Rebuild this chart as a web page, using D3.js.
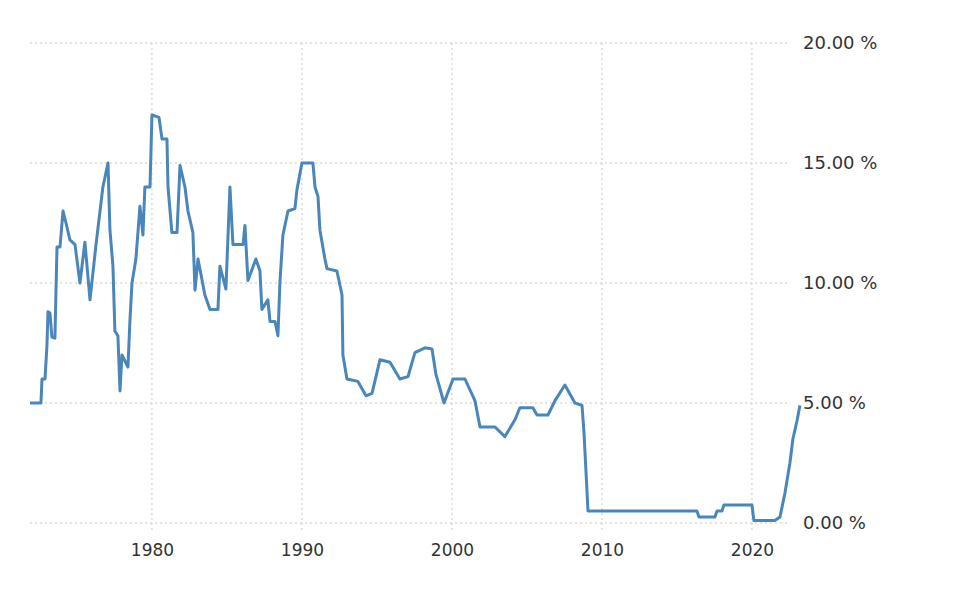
<!DOCTYPE html>
<html lang="en">
<head>
<meta charset="UTF-8">
<title>Interest rate</title>
<script src="https://cdn.jsdelivr.net/npm/d3@7"></script>
<style>
  body { margin: 0; background: #fff; }
  text { font-family: "DejaVu Sans", sans-serif; fill: #333; }
</style>
</head>
<body>
<svg width="960" height="600"></svg>
<script>
// values (decimal year, percent)
const years = [1971.87, 1972.6, 1972.67, 1972.87, 1973.0, 1973.07, 1973.2, 1973.33, 1973.53, 1973.67,
  1973.87, 1974.07, 1974.27, 1974.53, 1974.87, 1975.2, 1975.53, 1975.87, 1976.27, 1976.73,
  1977.07, 1977.2, 1977.4, 1977.53, 1977.73, 1977.87, 1978.0, 1978.4, 1978.53, 1978.67,
  1978.93, 1979.2, 1979.4, 1979.53, 1979.87, 1980.0, 1980.47, 1980.67, 1981.0, 1981.07,
  1981.33, 1981.67, 1981.87, 1982.2, 1982.4, 1982.73, 1982.87, 1983.07, 1983.53, 1983.87,
  1984.4, 1984.53, 1984.93, 1985.2, 1985.4, 1986.07, 1986.2, 1986.4, 1986.93, 1987.2,
  1987.33, 1987.73, 1987.87, 1988.2, 1988.4, 1988.53, 1988.73, 1989.07, 1989.53, 1989.67,
  1990.0, 1990.73, 1990.87, 1991.07, 1991.2, 1991.53, 1991.67, 1992.33, 1992.67, 1992.73,
  1993.0, 1993.73, 1994.27, 1994.67, 1995.2, 1995.87, 1996.53, 1997.07, 1997.53, 1998.2,
  1998.67, 1998.93, 1999.47, 2000.07, 2000.87, 2001.53, 2001.87, 2002.87, 2003.53, 2004.2,
  2004.53, 2005.4, 2005.67, 2006.4, 2006.87, 2007.53, 2008.2, 2008.67, 2008.8, 2009.07,
  2016.33, 2016.47, 2017.53, 2017.67, 2018.0, 2018.13, 2020.0, 2020.13, 2021.53, 2021.87,
  2022.2, 2022.53, 2022.73, 2023.0, 2023.2];
const rates = [5.0, 5.0, 6.0, 6.0, 7.4, 8.8, 8.75, 7.75, 7.7, 11.5,
  11.5, 13.0, 12.5, 11.8, 11.6, 10.0, 11.7, 9.3, 11.6, 14.0,
  15.0, 12.2, 10.7, 8.0, 7.8, 5.5, 7.0, 6.5, 8.4, 10.0,
  11.0, 13.2, 12.0, 14.0, 14.0, 17.0, 16.9, 16.0, 16.0, 14.0,
  12.1, 12.1, 14.9, 14.0, 13.0, 12.1, 9.7, 11.0, 9.5, 8.9,
  8.9, 10.7, 9.75, 14.0, 11.6, 11.6, 12.4, 10.1, 11.0, 10.5,
  8.9, 9.3, 8.4, 8.4, 7.8, 10.0, 12.0, 13.0, 13.1, 13.9,
  15.0, 15.0, 14.0, 13.6, 12.2, 11.0, 10.6, 10.5, 9.5, 7.0,
  6.0, 5.9, 5.3, 5.4, 6.8, 6.7, 6.0, 6.1, 7.1, 7.3,
  7.25, 6.2, 5.0, 6.0, 6.0, 5.1, 4.0, 4.0, 3.6, 4.3,
  4.8, 4.8, 4.5, 4.5, 5.1, 5.75, 5.0, 4.9, 3.8, 0.5,
  0.5, 0.25, 0.25, 0.5, 0.5, 0.75, 0.75, 0.1, 0.1, 0.25,
  1.25, 2.5, 3.5, 4.25, 4.9];
const yTicks = [0, 5, 10, 15, 20];
const xTicks = [1980, 1990, 2000, 2010, 2020];

const data = years.map((y, i) => ({ year: y, rate: rates[i] }));

const svg = d3.select("svg");
const plotLeft = 30, plotRight = 790, plotTop = 43, plotBottom = 523;

const x = d3.scaleLinear()
  .domain([1971.87, 1971.87 + (plotRight - plotLeft) / 15])
  .range([plotLeft, plotRight]);
const y = d3.scaleLinear().domain([0, 20]).range([plotBottom, plotTop]);

// grid
svg.append("g").selectAll("line").data(yTicks).join("line")
  .attr("x1", plotLeft).attr("x2", plotRight)
  .attr("y1", d => y(d)).attr("y2", d => y(d))
  .attr("stroke", "#c8c8c8").attr("stroke-dasharray", "2,3");
svg.append("g").selectAll("line").data(xTicks).join("line")
  .attr("x1", d => x(d)).attr("x2", d => x(d))
  .attr("y1", plotTop).attr("y2", plotBottom + 10)
  .attr("stroke", "#c8c8c8").attr("stroke-dasharray", "2,3");

// axes
const yAxis = svg.append("g")
  .attr("transform", "translate(" + (plotRight + 10) + ",0)")
  .call(d3.axisRight(y).tickValues(yTicks).tickSize(0).tickFormat(d => d3.format(".2f")(d) + " %"));
yAxis.select(".domain").remove();
yAxis.selectAll("text").style("font-size", "18px").style("fill", "#333");

const xAxis = svg.append("g")
  .attr("transform", "translate(0," + (plotBottom + 18) + ")")
  .call(d3.axisBottom(x).tickValues(xTicks).tickSize(0).tickFormat(d3.format("d")));
xAxis.select(".domain").remove();
xAxis.selectAll("text").style("font-size", "17px").style("fill", "#333");

// line
svg.append("path")
  .datum(data)
  .attr("fill", "none")
  .attr("stroke", "#4a86ba")
  .attr("stroke-width", 3)
  .attr("stroke-linejoin", "round")
  .attr("d", d3.line().x(d => x(d.year)).y(d => y(d.rate)));
</script>
</body>
</html>
